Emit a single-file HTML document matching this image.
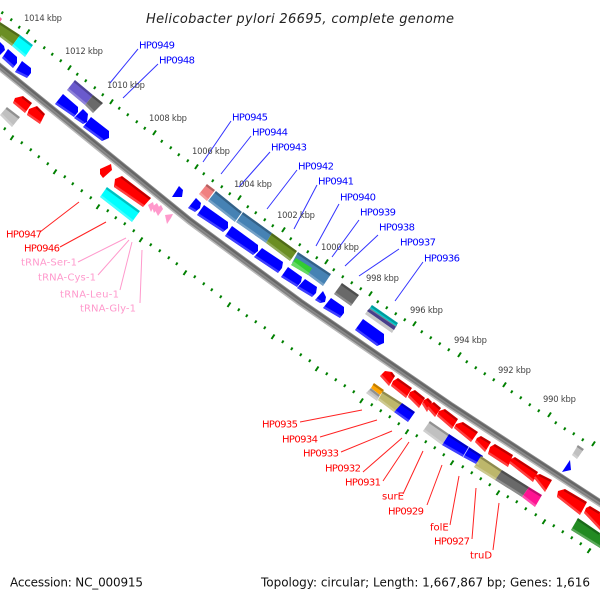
<!DOCTYPE html>
<html><head><meta charset="utf-8"><style>
html,body{margin:0;padding:0;background:#fff}
svg{display:block}
text{font-family:"DejaVu Sans",sans-serif}
.k{font-size:8.4px;fill:#444}
.b{font-size:10px;fill:#0000ff;transform:translateY(-0.5px)}
.r{font-size:10px;fill:#ff0000;transform:translateY(-0.5px)}
.p{font-size:10px;fill:#ff99cc;transform:translateY(-0.5px)}
</style></head><body>
<svg width="600" height="600" viewBox="0 0 600 600" xmlns="http://www.w3.org/2000/svg">
<rect width="600" height="600" fill="#fff"/>
<!-- tick marks -->
<g stroke="#008000" stroke-width="2" fill="none">
<path d="M1.500 14l1.500-2.500M10.500 21l1.500-2.500M18.500 28.500l1.500-2.500M34.500 42.500l1.500-2.500M43.500 49l1.500-2.500M51.500 55.500l1.500-2.500M60 62l1.500-2.500M76.500 75.500l1.500-2.500M85 82l1.500-2.500M94 89l1.500-2.500M102 96l1.500-2.500M118.500 109.500l1.500-2.500M127 116l1.500-2.500M136 123l1.500-2.500M144 129.500l1.500-2.500M161 142.500l1.500-2.500M170 149l1.500-2.500M178 156l1.500-2.500M187 162l1.500-2.500M203 175l1.500-2.500M212 182l1.500-2.500M221 188l1.500-2.500M229 195l1.500-2.500M247 208l1.500-2.500M255 214l1.500-2.500M264 221l1.500-2.500M272 227l1.500-2.500M290 240l1.500-2.500M299 246l1.500-2.500M307 253l1.500-2.500M316 259l1.500-2.500M333 271l1.500-2.500M342 278l1.500-2.500M351 284l1.500-2.500M360 290l1.500-2.500M377 303l1.500-2.500M386 309l1.500-2.500M395 315l1.500-2.500M404 321l1.500-2.500M421 333l1.500-2.500M430 339l1.500-2.500M439 345l1.500-2.500M448 351l1.500-2.500M466 363l1.500-2.500M475 369l1.500-2.500M484 375l1.500-2.500M493 381l1.500-2.500M511 393l1.500-2.500M520 399l1.500-2.500M529 406l1.500-2.500M538 412l1.500-2.500M555 424l1.500-2.500M564 430l1.500-2.500M573 435l1.500-2.500M582 441l1.500-2.500"/>
<path d="M26.500 34l3-4.500M68 70l3-4.500M110 104l3-4.500M153 135l3-4.500M195 169l3-4.500M238 200l3-4.500M282 232l3-4.500M325 264l3-4.500M369 296l3-4.500M413 326l3-4.500M458 357l3-4.500M503 387l3-4.500M548 417l3-4.500M592 446l3-4.500"/>
<path d="M4 130l1.500-2.500M21 144l1.500-2.500M30 151l1.500-2.500M38 158l1.500-2.500M47 165l1.500-2.500M64 178l1.500-2.500M72 185l1.500-2.500M81 192l1.500-2.500M90 199l1.500-2.500M107 212l1.500-2.500M115 219l1.500-2.500M124 225l1.500-2.500M133 232l1.500-2.500M150 246l1.500-2.500M159 252l1.500-2.500M168 259l1.500-2.500M176 265l1.500-2.500M194 278l1.500-2.500M203 285l1.500-2.500M211 291l1.500-2.500M220 298l1.500-2.500M238 311l1.500-2.500M246 317l1.500-2.500M255 323l1.500-2.500M264 329l1.500-2.500M282 343l1.500-2.500M291 350l1.500-2.500M300 356l1.500-2.500M309 362l1.500-2.500M326 375l1.500-2.500M335 381l1.500-2.500M344 387l1.500-2.500M353 393l1.500-2.500M371 406l1.500-2.500M380 412l1.500-2.500M389 418l1.500-2.500M398 425l1.500-2.500M416 437l1.500-2.500M425 443l1.500-2.500M434 449l1.500-2.500M443 456l1.500-2.500M462 468l1.500-2.500M471 474l1.500-2.500M480 480l1.500-2.500M489 486l1.500-2.500M507 498l1.500-2.500M516 503l1.500-2.500M525 510l1.500-2.500M535 516l1.500-2.500M553 527l1.500-2.500M562 533l1.500-2.500M571 539l1.500-2.500M580 545l1.500-2.500M589 551l1.500-2.500"/>
<path d="M10.500 140l3-4.500M53.500 174l3-4.500M96.500 209l3-4.500M139.500 242l3-4.500M183.500 275l3-4.500M227.500 307l3-4.500M271.500 339l3-4.500M315.500 371l3-4.500M360 403l3-4.500M405.500 434l3-4.500M450.500 465l3-4.500M496.500 495l3-4.500M542.500 524l3-4.500M587.500 553l3-4.500"/>
</g>
<!-- backbone -->
<g fill="none" stroke-linejoin="round">
<path d="M-5 63L100 148L190 221L300 302L380 357L450 405L525 454L605 506" stroke="#8a8a8a" stroke-width="7"/>
<path d="M-4.100 61.800L100.900 146.800L190.900 219.800L300.900 300.800L380.900 355.800L450.900 403.800L525.900 452.800L605.900 504.800" stroke="#666" stroke-width="2.200"/>
<path d="M-5.900 64.200L99.100 149.200L189.100 222.200L299.100 303.200L379.100 358.200L449.100 406.200L524.100 455.200L604.100 507.200" stroke="#808080" stroke-width="1.500"/>
<path d="M-6.900 65.500L98.100 150.500L188.100 223.500L298.100 304.500L378.100 359.500L448.100 407.500L523.100 456.500L603.100 508.500" stroke="#b8b8b8" stroke-width="1.500"/>
</g>
<!-- connector lines -->
<g fill="none" stroke-width="1">
<path stroke="#3333ff" d="M138 49L110 83M158 64L123 98M231 121L203 162M251 136L221 174M270 152L239 187M297 170L267 209M317 185L294 229M339 204L316 246M359 220L332 257M378 235L345 266M399 249L359 276M423 262L395 301"/>
<path stroke="#ff2222" d="M40 232L79 202M60 247L106 222M300 422L362 410M320 437L377 420M341 452L392 431M363 472L402 438M383 481L409 442M403 494L423 451M427 505L442 465M450 525L459 476M472 539L476 488M493 550L499 503"/>
<path stroke="#ff99cc" d="M78 262L126 238M98 275L129 240M120 290L132 242M140 303L142 250"/>
</g>
<!-- gene blocks -->
<g>
<g fill="#0000ff">
<polygon points="0,42 4,46 5,50 0,55"/>
<polygon points="2,58 8,49 17,57 17,63 13,68"/>
<polygon points="15,72 22,61 31,68 31,73 27,78"/>
<polygon points="55,104 63,94 78,107 78,112 74,117"/>
<polygon points="74,118 83,109 88,114 87,122 83,124"/>
<polygon points="83,127 91,117 109,131 109,138 102,141"/>
<polygon points="172,197 179,186 183,190 182,197"/>
<polygon points="188,208 196,198 201,203 200,208 195,212"/>
<polygon points="197,215 204,205 228,222 228,228 223,232"/>
<polygon points="225,236 232,226 258,245 258,251 253,255"/>
<polygon points="254,257 262,248 283,262 282,268 278,273"/>
<polygon points="281,277 288,267 302,277 301,282 297,287"/>
<polygon points="297,288 305,279 317,287 316,293 312,297"/>
<polygon points="315,300 323,291 326,297 325,302 320,303"/>
<polygon points="323,308 331,298 344,307 344,313 340,318"/>
<polygon points="355,330 363,319 384,334 384,343 377,346"/>
<polygon points="562,472 570,460 571,470"/>
<polygon points="394,412 402,403 415,412 408,422"/>
<polygon points="442,445 449,434 469,447 463,457"/>
<polygon points="463,457 469,447 483,456 478,465"/>
</g>
<g fill="#ff0000">
<polygon points="13,103 15,98 23,96 32,103 25,113"/>
<polygon points="27,115 29,109 37,106 45,114 40,124"/>
<polygon points="100,169 111,164 112,170 103,178 100,174"/>
<polygon points="114,187 115,179 122,176 151,198 143,207"/>
<polygon points="380,376 385,371 392,372 395,376 389,386"/>
<polygon points="391,386 393,381 398,378 412,388 406,398"/>
<polygon points="408,397 410,392 415,390 425,398 419,408"/>
<polygon points="422,404 424,400 428,398 432,402 427,412"/>
<polygon points="427,408 430,404 434,402 441,408 435,417"/>
<polygon points="437,416 439,411 445,409 458,419 452,429"/>
<polygon points="454,428 456,424 463,422 478,432 471,442"/>
<polygon points="475,442 477,438 481,436 491,442 485,452"/>
<polygon points="488,454 490,447 495,444 513,455 508,467"/>
<polygon points="509,463 511,459 515,457 538,472 533,482"/>
<polygon points="534,478 536,475 540,474 552,480 545,492"/>
<polygon points="557,497 558,491 565,489 587,502 580,515"/>
<polygon points="584,513 586,508 590,506 600,512 600,530"/>
</g>
<g fill="#ff99cc">
<polygon points="148,205 153,202 154,206 151,212"/>
<polygon points="152,207 157,203 159,207 154,213"/>
<polygon points="155,210 161,205 163,209 158,216"/>
<polygon points="165,215 173,214 171,218 167,224"/>
</g>
<polygon fill="#ff6699" points="0,17 2,19 0,22"/>
<polygon fill="#6b8e23" points="0,37 0,22 20,35 12,46"/>
<polygon fill="#00ffff" points="12,46 20,35 33,45 25,57"/>
<polygon fill="#c0c0c0" points="0,115 7,107 20,117 12,127"/>
<polygon fill="#6a5acd" points="67,90 75,80 93,95 85,105"/>
<polygon fill="#696969" points="85,105 93,95 103,103 93,113"/>
<polygon fill="#00ffff" points="100,197 107,187 140,211 132,222"/>
<polygon fill="#f08080" points="199,194 207,184 215,190 207,201"/>
<polygon fill="#4682b4" points="208,201 216,191 242,212 235,222"/>
<polygon fill="#4682b4" points="236,222 243,212 272,233 266,243"/>
<polygon fill="#6b8e23" points="266,243 272,233 297,251 290,261"/>
<polygon fill="#4682b4" points="292,263 298,252 331,274 323,286"/>
<polygon fill="#32cd32" points="291,265 296,258 312,268 308,275"/>
<polygon fill="#696969" points="334,294 342,283 359,295 351,306"/>
<polygon fill="#c8c8c8" points="365,314 372,305 398,323 392,333"/>
<polygon fill="#483d8b" points="369,309 371,307 397,325 394,330 367,311"/>
<polygon fill="#778899" points="370,308 371,307 397,325 396,327 369,309"/>
<polygon fill="#00ced1" points="370,308 372,305 398,323 396,326"/>
<polygon fill="#ffa500" points="371,388 374,383 384,390 380,395"/>
<polygon fill="#c0c0c0" points="366,393 371,388 380,395 377,401"/>
<polygon fill="#bdb76b" points="378,400 383,391 402,403 394,412"/>
<polygon fill="#c0c0c0" points="423,431 430,421 449,434 442,445"/>
<polygon fill="#bdb76b" points="474,467 481,456 502,470 495,480"/>
<polygon fill="#696969" points="495,480 502,470 529,487 522,497"/>
<polygon fill="#ff1493" points="522,497 529,487 542,495 535,507"/>
<polygon fill="#c0c0c0" points="572,455 578,445 584,449 577,459"/>
<polygon fill="#228b22" points="571,530 578,518 600,533 600,548"/>
</g>
<!-- top (darker) edges -->
<g transform="translate(-0.8,1)" stroke="#000" stroke-opacity="0.25" stroke-width="2.2" fill="none">
<path d="M0 22L20 35M20 35L33 45M7 107L20 117M75 80L93 95M93 95L103 103M107 187L140 211M207 184L215 190M216 191L242 212M243 212L272 233M272 233L297 251M298 252L331 274M342 283L359 295M372 305L398 323M374 383L384 390M371 388L380 395M383 391L402 403M402 403L415 412M430 421L449 434M449 434L469 447M469 447L483 456M481 456L502 470M502 470L529 487M529 487L542 495M578 445L584 449M578 518L600 533"/>
<path d="M23 96L32 103M37 106L45 114M122 176L151 198M392 372L395 376M398 378L412 388M415 390L425 398M428 398L432 402M434 402L441 408M445 409L458 419M463 422L478 432M481 436L491 442M495 444L513 455M515 457L538 472M540 474L552 480M565 489L587 502M590 506L600 512"/>
</g>
<!-- bottom (lighter) edges -->
<g transform="translate(0.8,-1)" stroke="#fff" stroke-opacity="0.25" stroke-width="2.2" fill="none">
<path d="M0 37L12 46M12 46L25 57M0 115L12 127M67 90L85 105M85 105L93 113M100 197L132 222M199 194L207 201M208 201L235 222M236 222L266 243M266 243L290 261M292 263L323 286M291 265L308 275M334 294L351 306M366 393L377 401M378 400L394 412M394 412L408 422M423 431L442 445M442 445L463 457M463 457L478 465M474 467L495 480M495 480L522 497M522 497L535 507M572 455L577 459M571 530L600 548"/>
<path d="M2 58L13 68M15 72L27 78M55 104L74 117M74 118L83 124M83 127L102 141M188 208L195 212M197 215L223 232M225 236L253 255M254 257L278 273M281 277L297 287M297 288L312 297M315 300L320 303M323 308L340 318M355 330L377 346"/>
<path d="M13 103L25 113M27 115L40 124M114 187L143 207M380 376L389 386M391 386L406 398M408 397L419 408M422 404L427 412M427 408L435 417M437 416L452 429M454 428L471 442M475 442L485 452M488 454L508 467M509 463L533 482M534 478L545 492M557 497L580 515M584 513L600 530"/>
</g>
<!-- separators -->
<path d="M235.500 222L242.500 212" stroke="#fff" stroke-width="1"/>
<path d="M291 262L298 251" stroke="#fff" stroke-width="1"/>
<path d="M463 457L469 447" stroke="#c8c8ff" stroke-width="0.8"/>
<!-- title -->
<text x="146" y="23" font-size="13" font-style="italic" fill="#222" textLength="308" lengthAdjust="spacing">Helicobacter pylori 26695, complete genome</text>
<text x="10" y="586.500" font-size="12" fill="#111" textLength="133" lengthAdjust="spacing">Accession: NC_000915</text>
<text x="261" y="586.500" font-size="12" fill="#111" textLength="329" lengthAdjust="spacing">Topology: circular; Length: 1,667,867 bp; Genes: 1,616</text>
<!-- kbp labels -->
<text class="k" x="24" y="21" textLength="38">1014 kbp</text>
<text class="k" x="65" y="54" textLength="38">1012 kbp</text>
<text class="k" x="107" y="88" textLength="38">1010 kbp</text>
<text class="k" x="149" y="121" textLength="38">1008 kbp</text>
<text class="k" x="192" y="154" textLength="38">1006 kbp</text>
<text class="k" x="234" y="187" textLength="38">1004 kbp</text>
<text class="k" x="277" y="218" textLength="38">1002 kbp</text>
<text class="k" x="321" y="250" textLength="38">1000 kbp</text>
<text class="k" x="366" y="281" textLength="33">998 kbp</text>
<text class="k" x="410" y="313" textLength="33">996 kbp</text>
<text class="k" x="454" y="343" textLength="33">994 kbp</text>
<text class="k" x="498" y="373" textLength="33">992 kbp</text>
<text class="k" x="543" y="402" textLength="33">990 kbp</text>
<!-- gene labels -->
<text class="b" x="139" y="49" textLength="36">HP0949</text>
<text class="b" x="159" y="64" textLength="36">HP0948</text>
<text class="b" x="232" y="121" textLength="36">HP0945</text>
<text class="b" x="252" y="136" textLength="36">HP0944</text>
<text class="b" x="271" y="151" textLength="36">HP0943</text>
<text class="b" x="298" y="170" textLength="36">HP0942</text>
<text class="b" x="318" y="185" textLength="36">HP0941</text>
<text class="b" x="340" y="201" textLength="36">HP0940</text>
<text class="b" x="360" y="216" textLength="36">HP0939</text>
<text class="b" x="379" y="231" textLength="36">HP0938</text>
<text class="b" x="400" y="246" textLength="36">HP0937</text>
<text class="b" x="424" y="262" textLength="36">HP0936</text>
<text class="r" x="6" y="238" textLength="36">HP0947</text>
<text class="r" x="24" y="252" textLength="36">HP0946</text>
<text class="r" x="262" y="428" textLength="36">HP0935</text>
<text class="r" x="282" y="443" textLength="36">HP0934</text>
<text class="r" x="303" y="457" textLength="36">HP0933</text>
<text class="r" x="325" y="472" textLength="36">HP0932</text>
<text class="r" x="345" y="486" textLength="36">HP0931</text>
<text class="r" x="382" y="500">surE</text>
<text class="r" x="388" y="515" textLength="36">HP0929</text>
<text class="r" x="430" y="531">folE</text>
<text class="r" x="434" y="545" textLength="36">HP0927</text>
<text class="r" x="470" y="559">truD</text>
<text class="p" x="21" y="266" textLength="56">tRNA-Ser-1</text>
<text class="p" x="38" y="281" textLength="58">tRNA-Cys-1</text>
<text class="p" x="60" y="298" textLength="59">tRNA-Leu-1</text>
<text class="p" x="80" y="312" textLength="56">tRNA-Gly-1</text>
</svg>
</body></html>
